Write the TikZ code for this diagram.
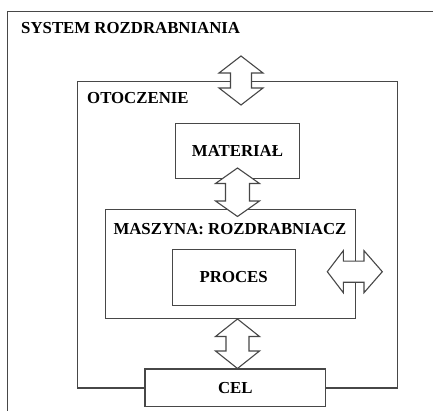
\documentclass[tikz,border=0pt]{standalone}
\usepackage{fontspec}
\setmainfont{Liberation Serif}
% vertical double arrow: x, top tip y, bottom tip y, head length, head half-width, shaft half-width
\newcommand\vdarrow[6]{%
  \draw[dblarrow] (#1,#2) -- (#1+#5,#2+#4) -- (#1+#6,#2+#4) -- (#1+#6,#3-#4)
    -- (#1+#5,#3-#4) -- (#1,#3) -- (#1-#5,#3-#4) -- (#1-#6,#3-#4)
    -- (#1-#6,#2+#4) -- (#1-#5,#2+#4) -- cycle;}
% horizontal double arrow: y, left tip x, right tip x, left head length, right head length, head half-width, shaft half-width
\newcommand\hdarrow[7]{%
  \draw[dblarrow] (#2,#1) -- (#2+#4,#1-#6) -- (#2+#4,#1-#7) -- (#3-#5,#1-#7)
    -- (#3-#5,#1-#6) -- (#3,#1) -- (#3-#5,#1+#6) -- (#3-#5,#1+#7)
    -- (#2+#4,#1+#7) -- (#2+#4,#1+#6) -- cycle;}
\begin{document}
\begin{tikzpicture}[x=1pt,y=-1pt,line join=miter,
  frame/.style={draw=black!72,line width=1.1pt},
  txt/.style={font=\bfseries\fontsize{16.8}{20}\selectfont},
  box/.style={frame,fill=white,inner sep=0pt,txt},
  lbl/.style={inner sep=0pt,anchor=base west,txt},
  dblarrow/.style={frame,fill=white}]
\useasboundingbox (0,0) rectangle (433,411);

% system frame (only its top and left sides fall on the page)
\coordinate (sysBL) at (7.3,411);
\coordinate (sysTL) at (7.3,11.7);
\coordinate (sysTR) at (433,11.7);
\draw[frame] (sysBL) -- (sysTL) -- (sysTR);
\node[lbl] (syslbl) at (21,34) {SYSTEM ROZDRABNIANIA};

% environment
\node[frame,inner sep=0pt,minimum width=320,minimum height=306.3] (oto) at (237.5,234.85) {};
\node[lbl] (otolbl) at (87,104) {OTOCZENIE};

% machine
\node[frame,inner sep=0pt,minimum width=250,minimum height=109] (masz) at (230.7,263.8) {};
\node[lbl] (maszlbl) at (113.3,235) {MASZYNA: ROZDRABNIACZ};

% inner boxes
\node[box,minimum width=123.6,minimum height=55] (mat) at (237.5,150.8) {MATERIAŁ};
\node[box,minimum width=122.7,minimum height=55.7] (proc) at (233.7,277.2) {PROCES};
\node[box,minimum width=180.7,minimum height=37.7] (cel) at (235.3,387.8) {CEL};

% exchange arrows
\vdarrow{241}{56}{105}{17}{22}{10.5}
\vdarrow{237.5}{168}{216.5}{15.5}{22}{12}
\vdarrow{237.5}{319}{368.5}{17.5}{22}{11.5}
\hdarrow{271.7}{327.3}{382.3}{16}{18.3}{21}{10.5}
\end{tikzpicture}
\end{document}
